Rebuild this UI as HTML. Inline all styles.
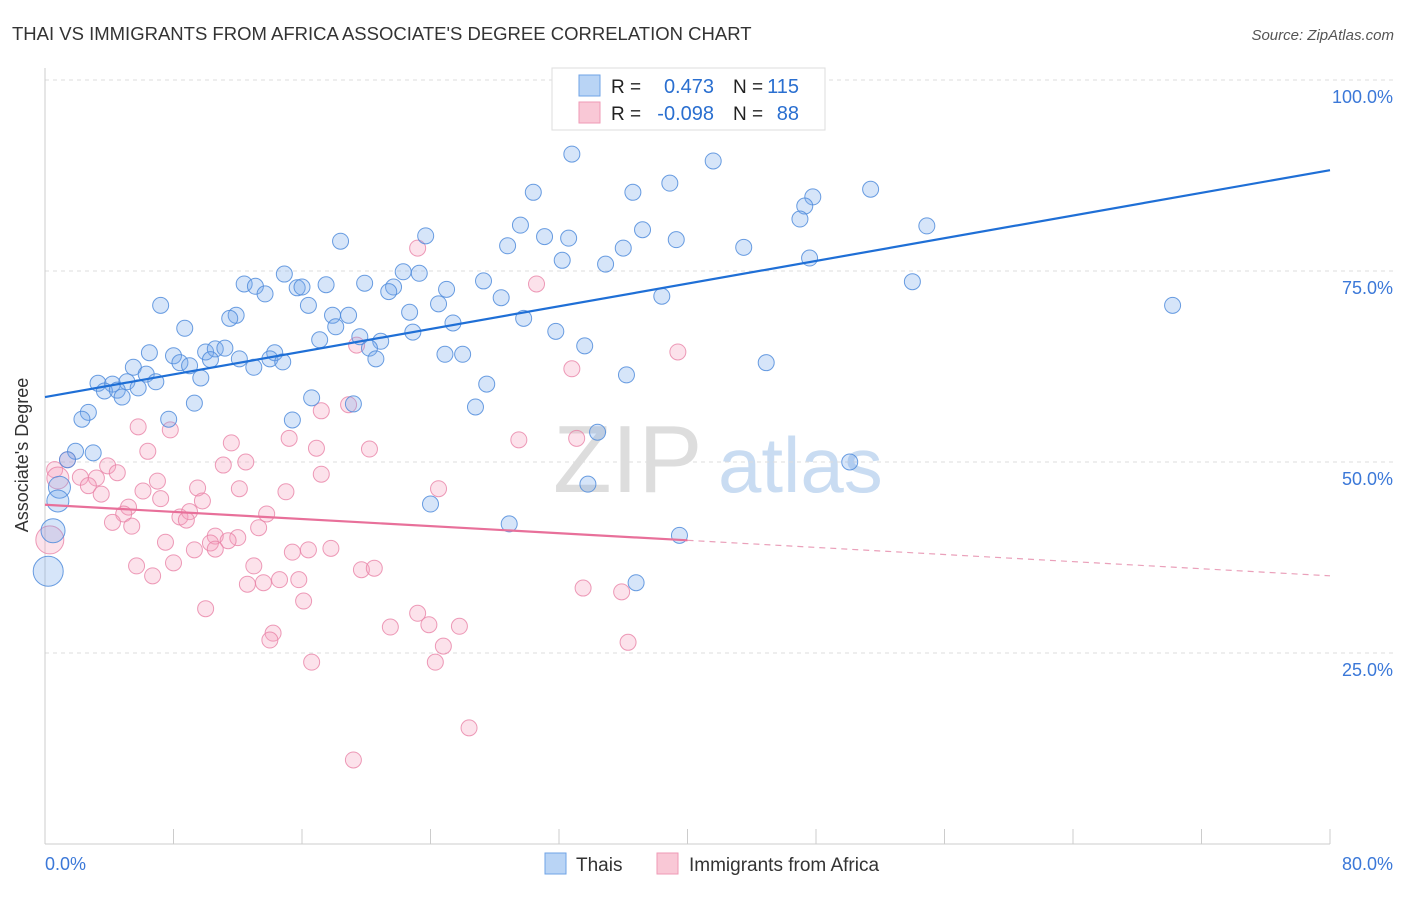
<!DOCTYPE html>
<html><head><meta charset="utf-8"><style>
body{margin:0;background:#fff;font-family:"Liberation Sans",sans-serif;}
svg text{font-family:"Liberation Sans",sans-serif;}
</style></head><body>
<svg id="chart" width="1406" height="892">
<text x="12" y="40" font-size="18.5" fill="#333">THAI VS IMMIGRANTS FROM AFRICA ASSOCIATE'S DEGREE CORRELATION CHART</text>
<text x="1394" y="40" font-size="15" fill="#555" font-style="italic" text-anchor="end">Source: ZipAtlas.com</text>
<g>
<text x="553" y="492" font-size="96" fill="#ddd" font-family="Liberation Serif">ZIP</text>
<text x="718" y="492" font-size="78" fill="#c9dcf2">atlas</text>
</g>
<g id="grid"></g><g id="axes"></g><g id="pts"></g><g id="lines"></g>
<text x="28" y="455" font-size="18" fill="#333" text-anchor="middle" transform="rotate(-90 28 455)">Associate's Degree</text>
<g>
<rect x="552" y="68" width="273" height="62" fill="#fff" stroke="#ddd"/>
<rect x="579" y="75" width="21" height="21" fill="#b9d4f5" stroke="#6fa3e6"/>
<rect x="579" y="102" width="21" height="21" fill="#f9c8d6" stroke="#ef9ab6"/>
<text x="611" y="93" font-size="19" fill="#222">R =</text>
<text x="714" y="93" font-size="20" fill="#2a6fd0" text-anchor="end">0.473</text>
<text x="733" y="93" font-size="19" fill="#222">N =</text>
<text x="799" y="93" font-size="20" fill="#2a6fd0" text-anchor="end">115</text>
<text x="611" y="120" font-size="19" fill="#222">R =</text>
<text x="714" y="120" font-size="20" fill="#2a6fd0" text-anchor="end">-0.098</text>
<text x="733" y="120" font-size="19" fill="#222">N =</text>
<text x="799" y="120" font-size="20" fill="#2a6fd0" text-anchor="end">88</text>
</g>
<g>
<rect x="545" y="853" width="21" height="21" fill="#b9d4f5" stroke="#6fa3e6"/>
<text x="576" y="871" font-size="19" fill="#333">Thais</text>
<rect x="657" y="853" width="21" height="21" fill="#f9c8d6" stroke="#ef9ab6"/>
<text x="689" y="871" font-size="19" fill="#333">Immigrants from Africa</text>
</g>
</svg>
<script>
const yTicks=[25,50,75,100];
const yTickLabels=["25.0%","50.0%","75.0%","100.0%"];
const xTicks=[0,8,16,24,32,40,48,56,64,72,80];
const thaisX=[32.8,41.6,38.9,30.4,36.6,51.4,47.8,47.3,47.0,54.9,29.6,37.2,18.4,23.7,31.1,32.6,28.8,39.3,43.5,36.0,32.2,34.9,47.6,14.9,12.4,13.1,22.3,23.3,19.9,27.3,17.5,15.7,16.0,13.7,25.0,21.7,21.4,28.4,24.5,38.4,54.0,70.2,7.2,11.9,11.5,16.4,22.7,17.9,18.9,29.8,25.4,18.1,8.7,31.8,22.9,17.1,19.6,20.9,20.2,33.6,24.9,26.0,6.5,10.0,10.6,11.2,8.0,8.4,10.3,12.1,13.0,14.3,14.0,14.8,20.6,44.9,5.5,6.3,9.0,9.7,6.9,3.3,4.2,5.1,3.7,4.5,5.8,4.8,27.5,36.2,16.6,19.2,9.3,26.8,2.7,2.3,7.7,15.4,34.4,1.9,3.0,1.4,50.1,33.8,0.9,0.8,24.0,28.9,39.5,0.5,36.8,0.2];
const thaisY=[90.3,89.4,86.5,85.3,85.3,85.7,84.7,83.5,81.8,80.9,81.0,80.4,78.9,79.6,79.5,79.3,78.3,79.1,78.1,78.0,76.4,75.9,76.7,74.6,73.3,73.0,74.9,74.7,73.4,73.7,73.2,72.8,72.9,72.0,72.6,72.9,72.3,71.5,70.7,71.7,73.6,70.5,70.5,69.2,68.8,70.5,69.6,69.2,69.2,68.8,68.2,67.7,67.5,67.1,67.0,66.0,66.4,65.8,64.9,65.2,64.1,64.1,64.3,64.4,64.8,64.9,63.9,63.0,63.4,63.5,62.4,64.3,63.5,63.1,63.5,63.0,62.4,61.5,62.6,61.0,60.5,60.3,60.2,60.5,59.3,59.4,59.7,58.5,60.2,61.4,58.4,57.6,57.7,57.2,56.5,55.6,55.6,55.5,53.9,51.4,51.2,50.3,50.0,47.1,46.7,44.9,44.5,41.9,40.4,41.0,34.2,35.7];
const thaisR={104:11,105:11,109:12,111:15};
const africaX=[23.2,30.6,19.4,39.4,32.8,17.2,18.9,5.8,7.8,15.2,11.6,6.4,29.5,33.1,16.9,20.2,12.5,3.9,1.4,11.1,0.6,2.2,4.5,3.2,2.7,7.0,3.5,6.1,9.5,17.2,12.1,15.0,24.5,7.2,9.8,5.2,4.9,8.4,9.0,13.8,4.2,5.4,8.8,10.6,12.0,13.3,10.3,11.4,7.5,9.3,10.6,15.4,16.4,17.8,5.7,8.0,13.0,6.7,19.7,20.5,12.6,13.6,14.6,15.8,16.1,10.0,33.5,35.9,23.2,23.9,25.8,21.5,14.2,14.0,36.3,24.8,16.6,24.3,26.4,19.2,0.8,0.3];
const africaY=[78.0,73.3,65.3,64.4,62.2,56.7,57.5,54.6,54.2,53.1,52.5,51.4,52.9,53.1,51.8,51.7,50.0,49.5,50.3,49.6,49.0,48.0,48.6,47.9,46.9,47.5,45.8,46.2,46.6,48.4,46.5,46.1,46.5,45.2,44.9,44.1,43.2,42.8,43.5,43.2,42.1,41.6,42.4,40.3,40.1,41.4,39.4,39.7,39.5,38.5,38.6,38.2,38.5,38.7,36.4,36.8,36.4,35.1,35.9,36.1,34.0,34.2,34.6,34.6,31.8,30.8,33.5,33.0,30.2,28.7,28.5,28.4,27.6,26.7,26.4,25.9,23.8,23.8,15.2,11.0,47.9,39.8];
const africaR={80:11,81:14};
const thaisTrend=[58.5,88.2];
const africaTrend=[44.4,35.1];
const africaSolidEnd=40;

const X0=45,X1=1330,Y0=844,Y100=80;
const sx=v=>X0+(v/80)*(X1-X0);
const sy=v=>Y0-(v/100)*(Y0-Y100);
const NS="http://www.w3.org/2000/svg";
function mk(tag,attrs,parent){const e=document.createElementNS(NS,tag);for(const k in attrs)e.setAttribute(k,attrs[k]);parent.appendChild(e);return e;}
const grid=document.getElementById('grid'),axes=document.getElementById('axes'),pts=document.getElementById('pts'),lines=document.getElementById('lines');
yTicks.forEach((t,i)=>{
 const l=mk('line',{x1:X0,x2:1394,y1:sy(t),y2:sy(t),stroke:'#ddd','stroke-dasharray':'4,4'},grid);
 
 
 const tx=mk('text',{x:1393,y:sy(t)+23,'font-size':18,fill:'#3b78d8','text-anchor':'end'},axes);
 tx.textContent=yTickLabels[i];
 
 
});
const ya=mk('line',{x1:X0,x2:X0,y1:68,y2:Y0,stroke:'#ccc'},axes);


const xa=mk('line',{x1:X0,x2:X1,y1:Y0,y2:Y0,stroke:'#ccc'},axes);


xTicks.forEach(t=>{
 const l=mk('line',{x1:sx(t),x2:sx(t),y1:829,y2:Y0,stroke:'#ccc'},axes);
 
 
});
const xl0=mk('text',{x:45,y:870,'font-size':18,fill:'#3b78d8'},axes);xl0.textContent='0.0%';


const xl1=mk('text',{x:1393,y:870,'font-size':18,fill:'#3b78d8','text-anchor':'end'},axes);xl1.textContent='80.0%';


africaX.forEach((v,i)=>{
 const c=mk('circle',{cx:sx(v),cy:sy(africaY[i]),r:africaR[i]||8,fill:'rgba(244,160,188,0.3)',stroke:'rgba(232,130,166,0.8)','stroke-width':1},pts);
 
 
});
thaisX.forEach((v,i)=>{
 const c=mk('circle',{cx:sx(v),cy:sy(thaisY[i]),r:thaisR[i]||8,fill:'rgba(120,170,235,0.3)',stroke:'rgba(80,140,220,0.85)','stroke-width':1},pts);
 
 
});
const bl=mk('line',{x1:sx(0),y1:sy(thaisTrend[0]),x2:sx(80),y2:sy(thaisTrend[1]),stroke:'#1f6fd6','stroke-width':2.2},lines);


const pm=africaTrend[0]+(africaTrend[1]-africaTrend[0])*africaSolidEnd/80;
const pl=mk('line',{x1:sx(0),y1:sy(africaTrend[0]),x2:sx(africaSolidEnd),y2:sy(pm),stroke:'#e8709a','stroke-width':2.2},lines);


const pd=mk('line',{x1:sx(africaSolidEnd),y1:sy(pm),x2:sx(80),y2:sy(africaTrend[1]),stroke:'#eaa0ba','stroke-width':1.2,'stroke-dasharray':'6,5'},lines);


</script>
</body></html>
